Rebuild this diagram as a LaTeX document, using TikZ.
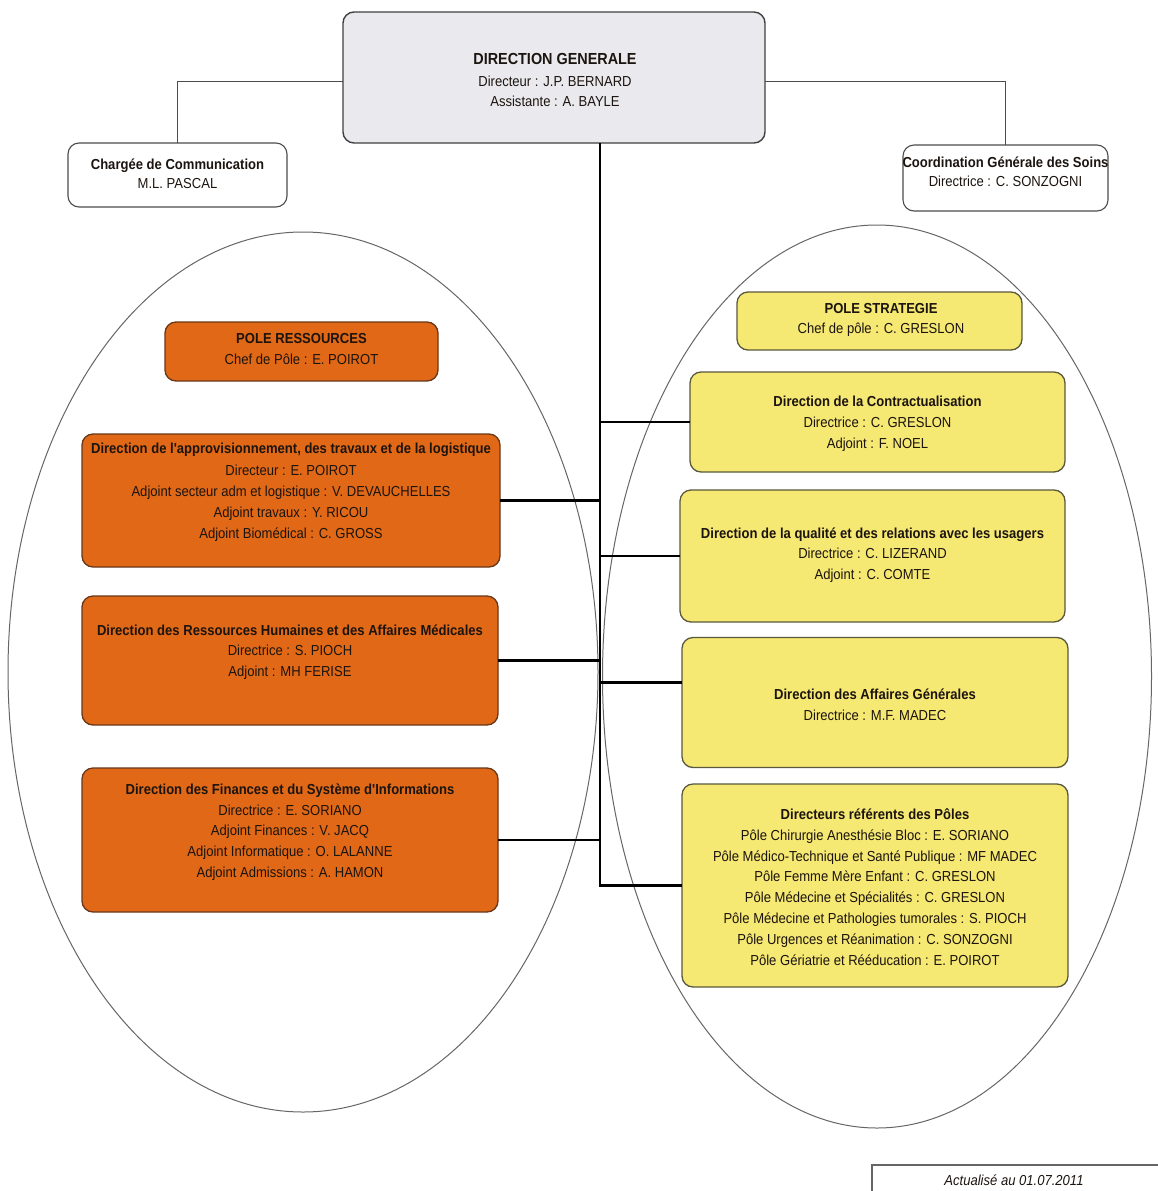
\documentclass[tikz,border=0pt]{standalone}
\usepackage{fontspec}
\setmainfont{Liberation Sans}
\newfontfamily\nar[FakeStretch=0.9]{Liberation Sans}
\usetikzlibrary{calc,shapes.geometric}
\definecolor{orgfill}{RGB}{224,104,22}
\definecolor{orgdraw}{RGB}{105,55,25}
\definecolor{ylwfill}{RGB}{245,232,115}
\definecolor{ylwdraw}{RGB}{90,88,60}
\definecolor{dgfill}{RGB}{234,234,238}
\definecolor{txtdark}{RGB}{28,20,15}
\begin{document}
\begin{tikzpicture}[x=1pt,y=-1pt,
  frame/.style={rounded corners=11pt, line width=1.3pt, inner sep=0pt, outer sep=0pt},
  obox/.style={frame, fill=orgfill, draw=orgdraw},
  ybox/.style={frame, fill=ylwfill, draw=ylwdraw},
  wbox/.style={frame, fill=white, draw=black!70, line width=1.1pt},
  gbox/.style={frame, fill=dgfill, draw=black!75, line width=1.4pt},
  txt/.style={align=center, font=\nar\fontsize{14.5}{20.8}\selectfont, text=txtdark, inner sep=0pt},
  link/.style={line width=2.8pt, black},
  thinlink/.style={line width=1.2pt, black!70},
  oval/.style={draw=black!60, line width=1pt, ellipse, inner sep=0pt}
]
\useasboundingbox[fill=white] (0,0) rectangle (1157,1191);

% ovals
\node[oval, minimum width=590pt, minimum height=880pt] (leftoval) at (303,672) {};
\node[oval, minimum width=549pt, minimum height=903pt] (rightoval) at (877,676.5) {};

% top boxes
\node[gbox, minimum width=422pt, minimum height=131pt] (dg) at (554,77.5) {};
\node[wbox, minimum width=219pt, minimum height=64pt] (charge) at (177.5,175) {};
\node[wbox, minimum width=205pt, minimum height=66pt] (coord) at (1005.5,178) {};

% left boxes
\node[obox, minimum width=273pt, minimum height=59pt] (poleres) at (301.5,351.5) {};
\node[obox, minimum width=418pt, minimum height=133pt] (appro) at (291,500.5) {};
\node[obox, minimum width=416pt, minimum height=129pt] (rh) at (290,660.5) {};
\node[obox, minimum width=416pt, minimum height=144pt] (fin) at (290,840) {};

% right boxes
\node[ybox, minimum width=285pt, minimum height=58pt] (polestrat) at (879.5,321) {};
\node[ybox, minimum width=375pt, minimum height=100pt] (contr) at (877.5,422) {};
\node[ybox, minimum width=385pt, minimum height=132pt] (qual) at (872.5,556) {};
\node[ybox, minimum width=386pt, minimum height=130pt] (aff) at (875,702.5) {};
\node[ybox, minimum width=386pt, minimum height=203pt] (dref) at (875,885.5) {};

% update box
\node[draw=black!60, line width=1.2pt, inner sep=0pt, outer sep=0pt, anchor=north west, minimum width=300pt, minimum height=50pt] (maj) at (872,1165) {};

% connectors
\coordinate (tk) at (600,0);
\draw[thinlink] ([yshift=-4pt]dg.west) -| (charge.north);
\draw[thinlink] ([yshift=-4pt]dg.east) -| (coord.north);
\draw[link] (dg.south -| tk) -- (dref.west -| tk) -- (dref.west);
\draw[link] (appro.east) -- (appro.east -| tk);
\draw[link] (rh.east) -- (rh.east -| tk);
\draw[link] (fin.east) -- (fin.east -| tk);
\draw[link] (contr.west) -- (contr.west -| tk);
\draw[link] (qual.west) -- (qual.west -| tk);
\draw[link] ([yshift=20pt]aff.west) -- ([yshift=20pt]aff.west -| tk);

% texts
\node[txt] (dg-t) at (555,80) {{\fontsize{16}{22}\selectfont\bfseries DIRECTION GENERALE}\\[1pt] Directeur : J.P. BERNARD\\ Assistante : A. BAYLE};
\node[txt, font=\nar\fontsize{14.5}{18.5}\selectfont] (charge-t) at (177.5,174) {\textbf{Chargée de Communication}\\ M.L. PASCAL};
\node[txt, font=\nar\fontsize{14.5}{19.5}\selectfont] (coord-t) at (1005.5,172) {\textbf{Coordination Générale des Soins}\\ Directrice : C. SONZOGNI};

\node[txt] (poleres-t) at (301.5,349) {\textbf{POLE RESSOURCES}\\ Chef de Pôle : E. POIROT};
\node[txt] (appro-t) at (291,492) {\textbf{Direction de l'approvisionnement, des travaux et de la logistique}\\[2pt] Directeur : E. POIROT\\ Adjoint secteur adm et logistique : V. DEVAUCHELLES\\ Adjoint travaux : Y. RICOU\\ Adjoint Biomédical : C. GROSS};
\node[txt] (rh-t) at (290,652) {\textbf{Direction des Ressources Humaines et des Affaires Médicales}\\ Directrice : S. PIOCH\\ Adjoint : MH FERISE};
\node[txt] (fin-t) at (290,832) {\textbf{Direction des Finances et du Système d'Informations}\\ Directrice : E. SORIANO\\ Adjoint Finances : V. JACQ\\ Adjoint Informatique : O. LALANNE\\ Adjoint Admissions : A. HAMON};

\node[txt] (polestrat-t) at (881,320) {\textbf{POLE STRATEGIE}\\ Chef de pôle : C. GRESLON};
\node[txt] (contr-t) at (877.5,424) {\textbf{Direction de la Contractualisation}\\ Directrice : C. GRESLON\\ Adjoint : F. NOEL};
\node[txt] (qual-t) at (872.5,555) {\textbf{Direction de la qualité et des relations avec les usagers}\\ Directrice : C. LIZERAND\\ Adjoint : C. COMTE};
\node[txt] (aff-t) at (875,705) {\textbf{Direction des Affaires Générales}\\ Directrice : M.F. MADEC};
\node[txt] (dref-t) at (875,887) {\textbf{Directeurs référents des Pôles}\\ Pôle Chirurgie Anesthésie Bloc : E. SORIANO\\ Pôle Médico-Technique et Santé Publique : MF MADEC\\ Pôle Femme Mère Enfant : C. GRESLON\\ Pôle Médecine et Spécialités : C. GRESLON\\ Pôle Médecine et Pathologies tumorales : S. PIOCH\\ Pôle Urgences et Réanimation : C. SONZOGNI\\ Pôle Gériatrie et Rééducation : E. POIROT};

\node[txt, font=\nar\fontsize{14.5}{16}\selectfont\itshape] (maj-t) at (1014,1180) {Actualisé au 01.07.2011};
\end{tikzpicture}
\end{document}
